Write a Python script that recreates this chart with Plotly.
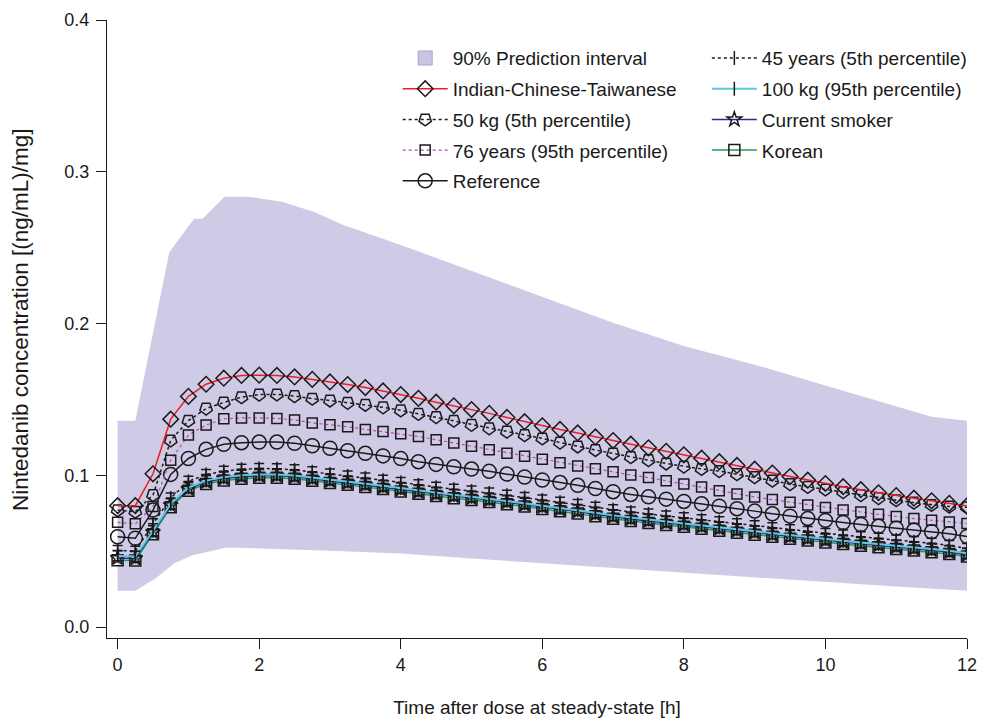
import plotly.graph_objects as go

# ---------------- data ----------------
time_h = [0.0, 0.25, 0.5, 0.75, 1.0, 1.25, 1.5, 1.75, 2.0,
          2.25, 2.5, 2.75, 3.0, 3.25, 3.5, 3.75, 4.0,
          4.25, 4.5, 4.75, 5.0, 5.25, 5.5, 5.75, 6.0,
          6.25, 6.5, 6.75, 7.0, 7.25, 7.5, 7.75, 8.0,
          8.25, 8.5, 8.75, 9.0, 9.25, 9.5, 9.75, 10.0,
          10.25, 10.5, 10.75, 11.0, 11.25, 11.5, 11.75, 12.0]

band_upper_time = [0.0, 0.25, 0.73, 1.08, 1.2, 1.51, 1.84, 2.32, 2.77, 3.19,
                   4.0, 5.0, 6.0, 7.0, 8.0, 9.0, 10.0, 11.0, 11.5, 12.0]
band_upper = [0.136, 0.136, 0.247, 0.269, 0.269, 0.2836, 0.2836, 0.2803, 0.2737, 0.265,
              0.2518, 0.2346, 0.2174, 0.2006, 0.1852, 0.1729, 0.1592, 0.1454, 0.1386, 0.136]
band_lower_time = [0.0, 0.25, 0.54, 0.8, 1.06, 1.54, 2.0, 3.0, 4.0, 5.0, 6.0,
                   7.0, 8.0, 9.0, 10.0, 11.0, 12.0]
band_lower = [0.0239, 0.0239, 0.0321, 0.042, 0.0474, 0.0525, 0.0518, 0.0503, 0.0485, 0.0452, 0.042,
              0.0388, 0.0357, 0.0327, 0.0297, 0.0267, 0.0239]

indian_cn_tw = [0.0800, 0.0800, 0.1010, 0.1370, 0.1520, 0.1600, 0.1640, 0.1658, 0.1660,
                0.1658, 0.1648, 0.1632, 0.1615, 0.1598, 0.1578, 0.1556, 0.1532,
                0.1507, 0.1482, 0.1458, 0.1433, 0.1408, 0.1381, 0.1353, 0.1326,
                0.1302, 0.1279, 0.1253, 0.1229, 0.1205, 0.1181, 0.1158, 0.1135,
                0.1113, 0.1090, 0.1065, 0.1040, 0.1015, 0.0992, 0.0968, 0.0946,
                0.0925, 0.0905, 0.0885, 0.0866, 0.0849, 0.0832, 0.0815, 0.0798]

kg50 = [0.0770, 0.0760, 0.0870, 0.1230, 0.1360, 0.1440, 0.1480, 0.1515, 0.1532,
        0.1533, 0.1522, 0.1505, 0.1493, 0.1478, 0.1465, 0.1448, 0.1428,
        0.1405, 0.1384, 0.1360, 0.1333, 0.1310, 0.1288, 0.1265, 0.1243,
        0.1216, 0.1190, 0.1167, 0.1144, 0.1120, 0.1100, 0.1078, 0.1058,
        0.1042, 0.1028, 0.1008, 0.0988, 0.0965, 0.0942, 0.0924, 0.0907,
        0.0890, 0.0870, 0.0850, 0.0836, 0.0820, 0.0805, 0.0794, 0.0789]

years76 = [0.0690, 0.0680, 0.0795, 0.1100, 0.1265, 0.1331, 0.1372, 0.1378, 0.1378,
           0.1375, 0.1365, 0.1345, 0.1333, 0.1320, 0.1302, 0.1288, 0.1274,
           0.1256, 0.1234, 0.1213, 0.1192, 0.1168, 0.1145, 0.1126, 0.1105,
           0.1082, 0.1061, 0.1044, 0.1023, 0.1002, 0.0985, 0.0964, 0.0943,
           0.0923, 0.0898, 0.0876, 0.0857, 0.0840, 0.0823, 0.0805, 0.0788,
           0.0772, 0.0758, 0.0743, 0.0728, 0.0715, 0.0704, 0.0693, 0.0683]

reference = [0.0595, 0.0585, 0.0771, 0.1006, 0.1111, 0.1171, 0.1204, 0.1215, 0.1219,
             0.1219, 0.1211, 0.1195, 0.1178, 0.1162, 0.1145, 0.1128, 0.1110,
             0.1090, 0.1072, 0.1056, 0.1041, 0.1026, 0.1008, 0.0989, 0.0969,
             0.0952, 0.0934, 0.0913, 0.0892, 0.0874, 0.0858, 0.0843, 0.0828,
             0.0812, 0.0796, 0.0780, 0.0764, 0.0746, 0.0731, 0.0716, 0.0703,
             0.0689, 0.0676, 0.0664, 0.0651, 0.0639, 0.0628, 0.0615, 0.0597]

years45 = [0.0505, 0.0500, 0.0680, 0.0850, 0.0960, 0.1005, 0.1027, 0.1040, 0.1045,
           0.1043, 0.1036, 0.1023, 0.1009, 0.0996, 0.0982, 0.0968, 0.0953,
           0.0937, 0.0922, 0.0908, 0.0896, 0.0883, 0.0869, 0.0853, 0.0837,
           0.0822, 0.0808, 0.0790, 0.0773, 0.0758, 0.0745, 0.0732, 0.0720,
           0.0707, 0.0694, 0.0681, 0.0668, 0.0654, 0.0641, 0.0629, 0.0617,
           0.0606, 0.0595, 0.0585, 0.0574, 0.0563, 0.0552, 0.0538, 0.0518]

kg100 = [0.0470, 0.0465, 0.0635, 0.0812, 0.0920, 0.0965, 0.0988, 0.1000, 0.1006,
         0.1006, 0.0999, 0.0986, 0.0972, 0.0959, 0.0945, 0.0931, 0.0916,
         0.0900, 0.0885, 0.0871, 0.0859, 0.0846, 0.0832, 0.0816, 0.0800,
         0.0785, 0.0771, 0.0753, 0.0736, 0.0721, 0.0708, 0.0695, 0.0683,
         0.0670, 0.0657, 0.0644, 0.0631, 0.0617, 0.0604, 0.0592, 0.0580,
         0.0569, 0.0558, 0.0548, 0.0537, 0.0526, 0.0515, 0.0503, 0.0487]

smoker = [0.0455, 0.0452, 0.0625, 0.0803, 0.0911, 0.0956, 0.0979, 0.0991, 0.0997,
          0.0997, 0.0990, 0.0977, 0.0963, 0.0950, 0.0936, 0.0922, 0.0907,
          0.0891, 0.0876, 0.0862, 0.0850, 0.0837, 0.0823, 0.0807, 0.0791,
          0.0776, 0.0762, 0.0744, 0.0727, 0.0712, 0.0699, 0.0686, 0.0674,
          0.0661, 0.0648, 0.0635, 0.0622, 0.0608, 0.0595, 0.0583, 0.0571,
          0.0560, 0.0549, 0.0539, 0.0528, 0.0517, 0.0506, 0.0494, 0.0476]

korean = [0.0440, 0.0438, 0.0612, 0.0790, 0.0898, 0.0943, 0.0966, 0.0978, 0.0984,
          0.0984, 0.0977, 0.0964, 0.0950, 0.0937, 0.0923, 0.0909, 0.0894,
          0.0878, 0.0863, 0.0849, 0.0837, 0.0824, 0.0810, 0.0794, 0.0778,
          0.0763, 0.0749, 0.0731, 0.0714, 0.0699, 0.0686, 0.0673, 0.0661,
          0.0648, 0.0635, 0.0622, 0.0609, 0.0595, 0.0582, 0.0570, 0.0558,
          0.0547, 0.0536, 0.0526, 0.0515, 0.0504, 0.0493, 0.0481, 0.0465]

x_ticks = [0, 2, 4, 6, 8, 10, 12]
y_ticks = [0.0, 0.1, 0.2, 0.3, 0.4]
y_ticktext = ["0.0", "0.1", "0.2", "0.3", "0.4"]

# ---------------- styling ----------------
FONT = "Liberation Sans, Arial, Helvetica, sans-serif"
INK = "#1a1a1a"
BAND = "#CFCBE6"
CAP = 0.0033   # half-height of the T / I glyphs in data units (~5 px)

fig = go.Figure()

# prediction interval band
fig.add_trace(go.Scatter(
    x=band_upper_time + band_lower_time[::-1],
    y=band_upper + band_lower[::-1],
    fill="toself", fillcolor=BAND, mode="lines", line=dict(width=0, color=BAND),
    hoverinfo="skip", showlegend=False))

# legend entry for the band
fig.add_trace(go.Scatter(
    x=[None], y=[None], mode="markers", name="90% Prediction interval",
    marker=dict(symbol="square", size=14, color="#C9C5E1", line=dict(color="#A8A4C4", width=1)),
    legend="legend", legendgroup="pi", legendrank=1))


def series(y, name, lcolor, dash, symbol, size, legend, rank, lwidth=1.5, angle=0, err=None):
    kw = {}
    if err is not None:
        kw["error_y"] = err
    fig.add_trace(go.Scatter(
        x=time_h, y=y, name=name, mode="lines+markers",
        line=dict(color=lcolor, width=lwidth, dash=dash),
        marker=dict(symbol=symbol, size=size, color=INK, angle=angle,
                    line=dict(width=1.5, color=INK)),
        legend=legend, legendgroup=name, legendrank=rank, **kw))


series(korean, "Korean", "#1E9E56", "solid", "square-open", 11, "legend2", 4)
series(smoker, "Current smoker", "#2B2B95", "solid", "star-open", 11, "legend2", 3)
series(kg100, "100 kg (95th percentile)", "#5EC8DC", "solid", "line-ns-open", 10, "legend2", 2,
       lwidth=2,
       err=dict(type="constant", value=CAP, symmetric=True, color=INK, thickness=1.5, width=5))
series(years45, "45 years (5th percentile)", INK, "dot", "line-ns-open", 10, "legend2", 1,
       err=dict(type="constant", value=CAP, valueminus=0, symmetric=False,
                color=INK, thickness=1.5, width=5))
series(reference, "Reference", INK, "solid", "circle-open", 14, "legend", 6)
series(years76, "76 years (95th percentile)", "#B04AB8", "dot", "square-open", 10, "legend", 5,
       lwidth=1.2)
series(kg50, "50 kg (5th percentile)", INK, "dot", "pentagon-open", 13, "legend", 4, angle=180)
series(indian_cn_tw, "Indian-Chinese-Taiwanese", "#EE1C25", "solid", "diamond-open", 12, "legend", 2)

axis_common = dict(showline=True, linecolor=INK, linewidth=1, ticks="outside",
                   ticklen=10, tickwidth=1, tickcolor=INK, showgrid=False, zeroline=False,
                   automargin=False,
                   tickfont=dict(size=18, color=INK, family=FONT))

# the page body adds an 8 px offset, so the figure is 8 px smaller and its margins shifted
fig.update_layout(
    width=978, height=713,
    margin=dict(l=99, r=19, t=12, b=83, autoexpand=False),
    plot_bgcolor="white", paper_bgcolor="white",
    font=dict(family=FONT, color=INK),
    xaxis=dict(range=[-0.15, 12], tickvals=x_ticks,
               title=dict(text="Time after dose at steady-state [h]",
                          font=dict(size=19, family=FONT, color=INK), standoff=27),
               **axis_common),
    yaxis=dict(range=[-0.0072, 0.4], tickvals=y_ticks, ticktext=y_ticktext,
               ticklabelstandoff=3, **axis_common),
    annotations=[dict(text="Nintedanib concentration [(ng/mL)/mg]", textangle=-90,
                      xref="paper", yref="paper", x=-0.1012, y=0.516,
                      xanchor="center", yanchor="middle", showarrow=False,
                      font=dict(size=22.5, family=FONT, color=INK))],
    legend=dict(x=0.338, y=0.969, xanchor="left", yanchor="top", bgcolor="rgba(0,0,0,0)",
                font=dict(size=19, family=FONT, color=INK), itemwidth=45,
                tracegroupgap=3, traceorder="grouped"),
    legend2=dict(x=0.6975, y=0.969, xanchor="left", yanchor="top", bgcolor="rgba(0,0,0,0)",
                 font=dict(size=19, family=FONT, color=INK), itemwidth=45,
                 tracegroupgap=3, traceorder="grouped"),
    showlegend=True,
)

fig.write_html("out.html")
